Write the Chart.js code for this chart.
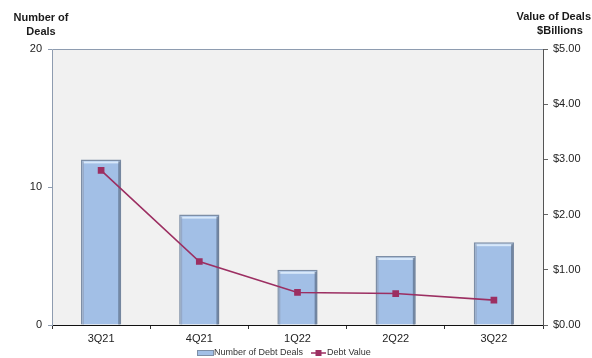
<!DOCTYPE html>
<html>
<head>
<meta charset="utf-8">
<script src="https://cdn.jsdelivr.net/npm/chart.js@4"></script>
<style>
  html, body { margin: 0; padding: 0; background: #ffffff; }
  #wrap { width: 592px; height: 358px; position: relative; }
</style>
</head>
<body>
<div id="wrap"><canvas id="c" width="592" height="358"></canvas></div>
<script>
// Quarterly debt deals: count (bars, left axis) and value in $ billions (line, right axis)
const quarters = ['3Q21', '4Q21', '1Q22', '2Q22', '3Q22'];
const dealCounts = [12, 8, 4, 5, 6];
const dealValues = [2.80, 1.15, 0.59, 0.57, 0.45];
const countTicks = [0, 10, 20];
const valueTicks = [0, 1, 2, 3, 4, 5];

const FONT = '"Liberation Sans", Arial, sans-serif';
const BAR_FILL = '#A2BFE6';
const BAR_EDGE = '#7D8EA6';
const LINE_COLOR = '#9C2F62';

// Plot background, top/left frame, bevel highlights, headers and legend
const decor = {
  id: 'decor',
  beforeDatasetsDraw(chart) {
    const { ctx, chartArea: a } = chart;
    ctx.save();
    ctx.fillStyle = '#F1F1F1';
    ctx.fillRect(a.left, a.top, a.right - a.left, a.bottom - a.top);
    ctx.strokeStyle = '#8E9CB0';
    ctx.lineWidth = 1;
    ctx.beginPath();
    ctx.moveTo(a.left + 0.5, a.bottom);
    ctx.lineTo(a.left + 0.5, a.top + 0.5);
    ctx.lineTo(a.right, a.top + 0.5);
    ctx.stroke();
    ctx.restore();
  },
  afterDatasetDraw(chart, args) {
    if (args.index !== 0) return;
    const { ctx } = chart;
    const meta = chart.getDatasetMeta(0);
    ctx.save();
    meta.data.forEach(bar => {
      const l = bar.x - bar.width / 2, r = bar.x + bar.width / 2;
      const t = bar.y, b = bar.base;
      // top highlight
      ctx.fillStyle = '#D8E8FA';
      ctx.fillRect(l + 2, t + 2, r - l - 4, 2);
      // right-side shadow
      ctx.fillStyle = 'rgba(70,85,110,0.55)';
      ctx.fillRect(r - 3, t + 2, 2, b - t - 2);
      // left-side soft edge
      ctx.fillStyle = 'rgba(140,155,180,0.6)';
      ctx.fillRect(l + 1.5, t + 2, 1.5, b - t - 2);
    });
    ctx.restore();
  },
  afterDraw(chart) {
    const { ctx } = chart;
    ctx.save();
    ctx.fillStyle = '#1a1a1a';
    ctx.font = 'bold 11px ' + FONT;
    ctx.textBaseline = 'middle';
    ctx.textAlign = 'center';
    ctx.fillText('Number of', 41, 18);
    ctx.fillText('Deals', 41, 32);
    ctx.textAlign = 'right';
    ctx.fillText('Value of Deals', 591, 17);
    ctx.textAlign = 'center';
    ctx.fillText('$Billions', 560, 31);

    // legend
    const y = 353;
    ctx.font = '9px ' + FONT;
    ctx.textAlign = 'left';
    ctx.fillStyle = BAR_FILL;
    ctx.fillRect(197, y - 2.5, 17, 5);
    ctx.strokeStyle = BAR_EDGE;
    ctx.lineWidth = 1;
    ctx.strokeRect(197.5, y - 2.5, 16, 5);
    ctx.fillStyle = '#333333';
    ctx.fillText('Number of Debt Deals', 214, y);
    ctx.strokeStyle = LINE_COLOR;
    ctx.lineWidth = 1.5;
    ctx.beginPath();
    ctx.moveTo(311, y);
    ctx.lineTo(326, y);
    ctx.stroke();
    ctx.fillStyle = LINE_COLOR;
    ctx.fillRect(315.5, y - 3, 6, 6);
    ctx.fillStyle = '#333333';
    ctx.fillText('Debt Value', 327, y);
    ctx.restore();
  }
};

new Chart(document.getElementById('c'), {
  type: 'bar',
  data: {
    labels: quarters,
    datasets: [
      {
        type: 'bar',
        label: 'Number of Debt Deals',
        data: dealCounts,
        yAxisID: 'y',
        backgroundColor: BAR_FILL,
        borderColor: BAR_EDGE,
        borderWidth: 1.5,
        categoryPercentage: 1,
        barPercentage: 0.41,
        order: 2
      },
      {
        type: 'line',
        label: 'Debt Value',
        data: dealValues,
        yAxisID: 'y1',
        borderColor: LINE_COLOR,
        backgroundColor: LINE_COLOR,
        borderWidth: 1.6,
        pointStyle: 'rect',
        pointRadius: 3.6,
        pointHoverRadius: 3.6,
        tension: 0,
        order: 1
      }
    ]
  },
  options: {
    responsive: false,
    animation: false,
    devicePixelRatio: 1,
    layout: { padding: { top: 49, left: 0, right: 0, bottom: 0 } },
    plugins: { legend: { display: false }, tooltip: { enabled: false } },
    scales: {
      x: {
        offset: true,
        grid: { display: true, drawOnChartArea: false, offset: true, tickLength: 4, color: '#333333' },
        border: { display: true, color: '#111111', width: 1 },
        ticks: { color: '#222222', font: { family: FONT, size: 11 }, padding: 3, maxRotation: 0 },
        afterFit(s) { s.height = 33; }
      },
      y: {
        position: 'left',
        min: 0, max: 20,
        afterBuildTicks(s) { s.ticks = countTicks.map(v => ({ value: v })); },
        grid: { display: true, drawOnChartArea: false, tickLength: 4, color: '#8E9CB0' },
        border: { display: true, color: '#8E9CB0', width: 1 },
        ticks: { color: '#222222', font: { family: FONT, size: 11 }, padding: 6 },
        afterFit(s) { s.width = 52; }
      },
      y1: {
        position: 'right',
        min: 0, max: 5,
        afterBuildTicks(s) { s.ticks = valueTicks.map(v => ({ value: v })); },
        grid: { display: true, drawOnChartArea: false, tickLength: 5, color: '#666666' },
        border: { display: true, color: '#555555', width: 1 },
        ticks: {
          color: '#222222', font: { family: FONT, size: 11 }, padding: 5,
          callback: v => '$' + Number(v).toFixed(2)
        },
        afterFit(s) { s.width = 49; }
      }
    }
  },
  plugins: [decor]
});
</script>
</body>
</html>
